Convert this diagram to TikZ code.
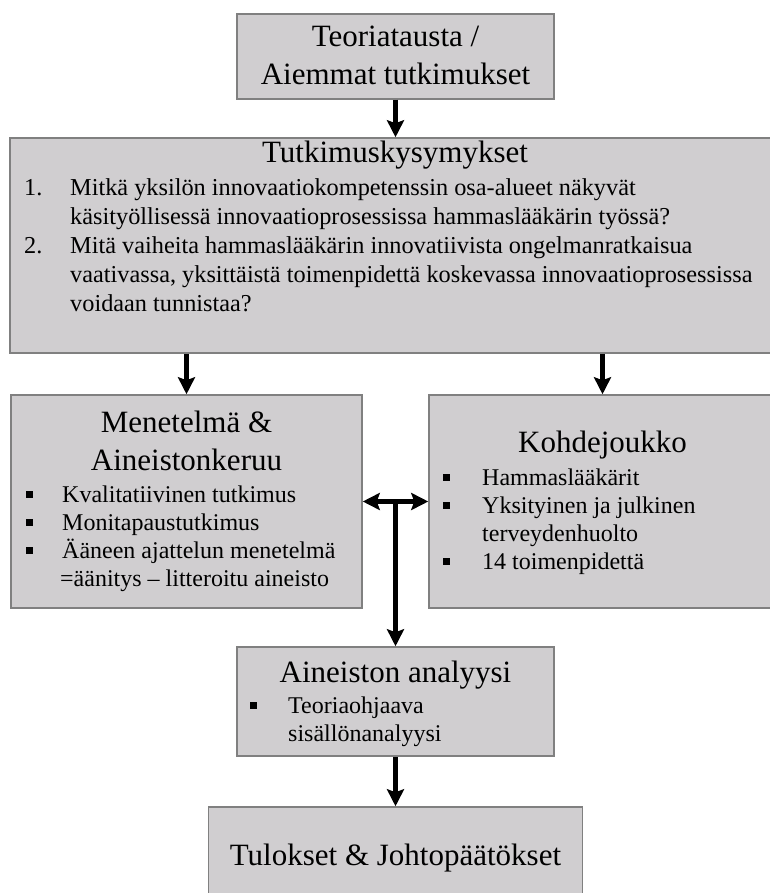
\documentclass[tikz,border=0pt]{standalone}
\usepackage{fontspec}
\setmainfont{Liberation Serif}
\usetikzlibrary{arrows.meta}
\definecolor{boxgray}{RGB}{208,206,208}
\definecolor{edgegray}{RGB}{128,128,128}
\newcommand{\ttlfont}{\fontsize{31}{38}\selectfont}
\newcommand{\txtfont}{\fontsize{24}{28.3}\selectfont}
\newcommand{\qfont}{\fontsize{24.3}{29}\selectfont}
\newcommand{\blt}{\rule[4.5pt]{7pt}{7pt}}

\begin{document}
\begin{tikzpicture}[x=1pt,y=1pt]
\tikzstyle{every node}+=[inner sep=0pt]
\tikzstyle{box}=[draw=edgegray, fill=boxgray, line width=1.5pt]
\tikzstyle{arr}=[line width=5pt, -{Stealth[width=17pt,length=17pt,inset=3pt]}]
\tikzstyle{dblarr}=[line width=5pt, {Stealth[width=17pt,length=17pt,inset=3pt]}-{Stealth[width=17pt,length=17pt,inset=3pt]}]
\tikzstyle{title}=[anchor=base, font=\ttlfont]
\tikzstyle{list}=[anchor=base west]
\clip (0,0) rectangle (770,-893);
\fill [white] (0,0) rectangle (770,-893);
\node [box, minimum width=317, minimum height=85] (teoria) at (395.5,-56.5) {};
\node [box, minimum width=770, minimum height=215] (kysymykset) at (395,-245.5) {};
\node [box, minimum width=351, minimum height=213] (menetelma) at (186.5,-501.5) {};
\node [box, minimum width=347, minimum height=213] (kohde) at (602.5,-501.5) {};
\node [box, minimum width=317, minimum height=109] (aineisto) at (395.5,-701.5) {};
\node [box, minimum width=374, minimum height=98] (tulokset) at (395.5,-856) {};
\node [title] (teoriatxt) at (395.5,-47) {\begin{tabular}[t]{@{}c@{}}Teoriatausta /\\Aiemmat tutkimukset\end{tabular}};
\node [title] (kysymyksettxt) at (395,-163) {Tutkimuskysymykset};
\node [list, font=\qfont] (kysymyksetlist) at (24,-196) {\begin{tabular}[t]{@{}p{46pt}@{}l@{}}
1. & Mitkä yksilön innovaatiokompetenssin osa-alueet näkyvät\\
 & käsityöllisessä innovaatioprosessissa hammaslääkärin työssä?\\
2. & Mitä vaiheita hammaslääkärin innovatiivista ongelmanratkaisua\\
 & vaativassa, yksittäistä toimenpidettä koskevassa innovaatioprosessissa\\
 & voidaan tunnistaa?
\end{tabular}};
\node [title] (menetelmatxt) at (186.5,-432) {\begin{tabular}[t]{@{}c@{}}Menetelmä \&\\Aineistonkeruu\end{tabular}};
\node [list, font=\txtfont] (menetelmalist) at (26,-502) {\begin{tabular}[t]{@{}p{36pt}@{}l@{}}
\blt & Kvalitatiivinen tutkimus\\
\blt & Monitapaustutkimus\\
\blt & Ääneen ajattelun menetelmä\\
 & \hspace{-2pt}=äänitys – litteroitu aineisto
\end{tabular}};
\node [title] (kohdetxt) at (602.5,-452) {Kohdejoukko};
\node [list, font=\txtfont] (kohdelist) at (443,-485) {\begin{tabular}[t]{@{}p{39pt}@{}l@{}}
\blt & Hammaslääkärit\\
\blt & Yksityinen ja julkinen\\
 & terveydenhuolto\\
\blt & 14 toimenpidettä
\end{tabular}};
\node [title] (aineistotxt) at (395.5,-682) {Aineiston analyysi};
\node [list, font=\txtfont] (aineistolist) at (250,-713) {\begin{tabular}[t]{@{}p{38pt}@{}l@{}}
\blt & Teoriaohjaava\\
 & sisällönanalyysi
\end{tabular}};
\node [title] (tuloksettxt) at (395.5,-865) {Tulokset \& Johtopäätökset};
\draw [arr] (teoria.south) -- (teoria.south |- kysymykset.north);
\draw [arr] (kysymykset.south -| menetelma.north) -- (menetelma.north);
\draw [arr] (kysymykset.south -| kohde.north) -- (kohde.north);
\draw [dblarr] (menetelma.east) -- (kohde.west);
\coordinate (haara) at (menetelma.east -| aineisto.north);
\draw [arr] ([yshift=2.5pt]haara) -- (aineisto.north);
\draw [arr] (aineisto.south) -- (tulokset.north);
\end{tikzpicture}
\end{document}
